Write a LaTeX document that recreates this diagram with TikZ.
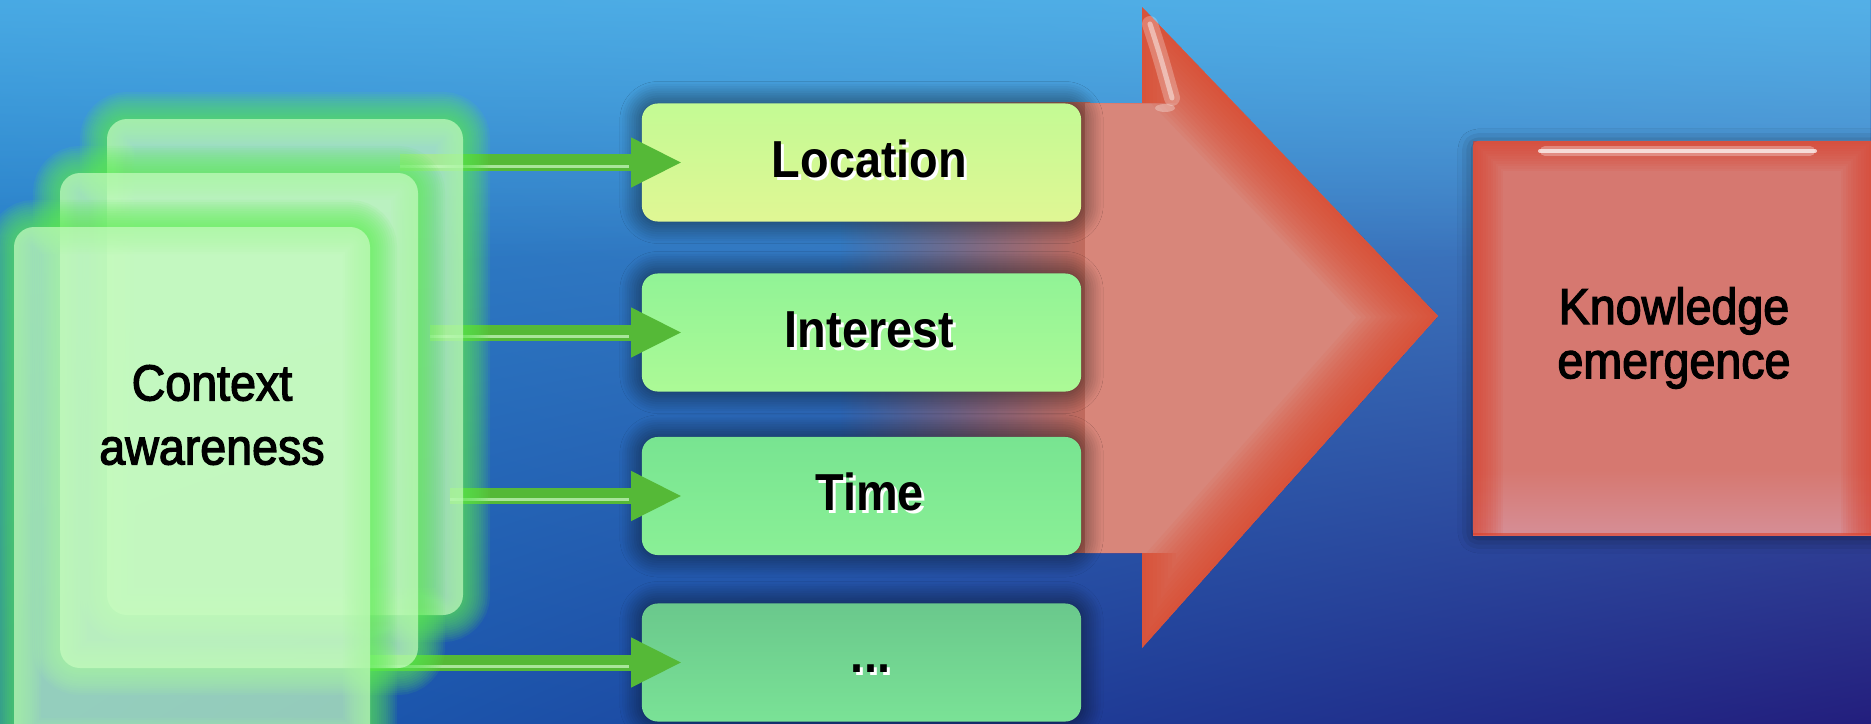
\documentclass[tikz,border=0pt]{standalone}
\usepackage{fontspec}
\setmainfont{Liberation Sans}
\newfontfamily\boxfont{Liberation Sans}[FakeStretch=0.9]
\newfontfamily\midfont{Liberation Sans}[FakeStretch=0.92, FakeBold=2.5]
\usetikzlibrary{arrows.meta,shadows.blur,fadings,shadings}
\definecolor{bgUL}{RGB}{45,135,205}
\definecolor{bgUR}{RGB}{80,155,215}
\definecolor{bgLL}{RGB}{25,100,185}
\definecolor{bgLR}{RGB}{35,30,125}
\definecolor{bgLight}{RGB}{85,185,238}
\definecolor{ared}{RGB}{228,70,40}
\definecolor{apink}{RGB}{216,134,122}
\definecolor{gapred}{RGB}{175,80,65}
\definecolor{gapmid}{RGB}{198,108,92}
\definecolor{kred}{RGB}{220,62,40}
\definecolor{kpink}{RGB}{214,120,112}
\definecolor{kpinkb}{RGB}{214,142,150}
\definecolor{locA}{RGB}{195,250,148}
\definecolor{locB}{RGB}{224,247,148}
\definecolor{intA}{RGB}{145,243,150}
\definecolor{intB}{RGB}{172,250,150}
\definecolor{timA}{RGB}{120,228,145}
\definecolor{timB}{RGB}{138,240,150}
\definecolor{dotA}{RGB}{106,200,140}
\definecolor{dotB}{RGB}{122,226,150}
\definecolor{garrowc}{RGB}{85,185,55}
\definecolor{gstripe}{RGB}{190,240,180}
\definecolor{glowgreen}{RGB}{95,238,85}
\definecolor{cardfill}{RGB}{200,252,192}
\tikzfading[name=fadeleft, left color=transparent!100, right color=transparent!0]
\tikzfading[name=fadedown, top color=transparent!0, bottom color=transparent!100]
\newcommand{\ctxcard}[4]{%
  \foreach \i in {1,...,12}{%
    \draw[glowgreen, line width=0.45*\i mm, opacity=0.085, rounded corners=2mm] (#1,#2) rectangle (#3,#4);}
  \fill[cardfill, opacity=0.7, rounded corners=2mm] (#1,#2) rectangle (#3,#4);}
\begin{document}
\begin{tikzpicture}[x=0.01cm, y=-0.01cm,
  gbox/.style={rounded corners=1.6mm, minimum width=43.9mm, minimum height=11.8mm, inner sep=0pt,
    blur shadow={shadow xshift=0mm, shadow yshift=0mm, shadow blur radius=2.2mm, shadow opacity=70, shadow blur steps=10}},
  lbl/.style={font=\boxfont\bfseries\fontsize{14.8}{17}\selectfont, anchor=base, inner sep=0pt},
  garrow/.style={draw=garrowc, line width=1.6mm, -{Triangle[length=5.1mm,width=4.6mm]}},
  stripe/.style={draw=gstripe, line width=0.3mm, opacity=0.8}]
\clip (0,0) rectangle (1871,724);
\shade[upper left=bgUL, upper right=bgUR, lower left=bgLL, lower right=bgLR] (0,0) rectangle (1871,724);
\fill[bgLight, path fading=fadedown, opacity=0.7] (0,0) rectangle (1871,260);
% red arrow
\shade[left color=gapred, right color=gapmid, path fading=fadeleft] (840,103) rectangle (1090,553);
\fill[apink] (1085,103) -- (1142,103) -- (1142,7) -- (1438,316) -- (1142,648) -- (1142,553) -- (1085,553) -- cycle;
\begin{scope}
  \clip (1085,103) -- (1142,103) -- (1142,7) -- (1438,316) -- (1142,648) -- (1142,553) -- (1085,553) -- cycle;
  \foreach \i in {1,...,16}{%
    \draw[ared, line width=0.75*\i mm, opacity=0.075, line join=miter] (1142,103) -- (1142,7) -- (1438,316) -- (1142,648) -- (1142,553);}
\end{scope}
\draw[white, opacity=0.25, line width=1.6mm, line cap=round] (1150,24) .. controls (1160,55) .. (1172,98);
\draw[white, opacity=0.45, line width=0.5mm, line cap=round] (1150,24) .. controls (1160,55) .. (1172,98);
\fill[white, opacity=0.3] (1165,108) ellipse (10 and 4);
% knowledge box
\node[fill=kpink, minimum width=40.8mm, minimum height=39.4mm, inner sep=0pt, rounded corners=0.5mm,
  blur shadow={shadow xshift=0mm, shadow yshift=-0.3mm, shadow blur radius=1.5mm, shadow opacity=50}] (know) at (1677,338) {};
\begin{scope}
  \clip (1473,141) rectangle (1881,535);
  \shade[top color=kpink, bottom color=kpinkb] (1473,470) rectangle (1881,535);
  \foreach \i in {1,...,12}{%
    \draw[kred, line width=0.5*\i mm, opacity=0.075] (1473,535) -- (1473,141) -- (1871,141) -- (1871,535);}
  \draw[kred, line width=0.4mm, opacity=0.6] (1473,535) -- (1881,535);
\end{scope}
\draw[white, opacity=0.3, line width=1.0mm, line cap=round] (1545,151) -- (1810,151);
\draw[white, opacity=0.7, line width=0.4mm, line cap=round] (1540,151) -- (1815,151);
% green boxes
\node[gbox, top color=locA, bottom color=locB] (loc) at (861.5,162.5) {};
\node[gbox, top color=intA, bottom color=intB] (int) at (861.5,332.5) {};
\node[gbox, top color=timA, bottom color=timB] (tim) at (861.5,496) {};
\node[gbox, top color=dotA, bottom color=dotB] (dots) at (861.5,662.5) {};
% green arrows
\coordinate (s1) at (400,162.5);
\coordinate (s2) at (430,332.5);
\coordinate (s3) at (450,496);
\coordinate (s4) at (370,662.5);
\draw[garrow] (s1) -- ([xshift=4.1mm]loc.west);
\draw[garrow] (s2) -- ([xshift=4.1mm]int.west);
\draw[garrow] (s3) -- ([xshift=4.1mm]tim.west);
\draw[garrow] (s4) -- ([xshift=4.1mm]dots.west);
\draw[stripe] ([yshift=-0.35mm]s1) -- ([xshift=-1.2mm,yshift=-0.35mm]loc.west);
\draw[stripe] ([yshift=-0.35mm]s2) -- ([xshift=-1.2mm,yshift=-0.35mm]int.west);
\draw[stripe] ([yshift=-0.35mm]s3) -- ([xshift=-1.2mm,yshift=-0.35mm]tim.west);
\draw[stripe] ([yshift=-0.35mm]s4) -- ([xshift=-1.2mm,yshift=-0.35mm]dots.west);
% context cards
\ctxcard{107}{119}{463}{615}
\ctxcard{60}{173}{418}{668}
\ctxcard{14}{227}{370}{745}
% texts
\node[font=\midfont\fontsize{14.4}{18.2}\selectfont, align=center, inner sep=0pt] (ctx) at (212,415) {Context\\awareness};
\node[font=\midfont\fontsize{14.4}{15.4}\selectfont, align=center, inner sep=0pt] (knowtxt) at ([xshift=-0.3mm]know.center) {Knowledge\\emergence};
\node[lbl, white] (locs) at ([xshift=1.1mm,yshift=-1.75mm]loc.center) {Location};
\node[lbl] (loct) at ([xshift=0.8mm,yshift=-1.45mm]loc.center) {Location};
\node[lbl, white] (ints) at ([xshift=1.1mm,yshift=-1.75mm]int.center) {Interest};
\node[lbl] (intt) at ([xshift=0.8mm,yshift=-1.45mm]int.center) {Interest};
\node[lbl, white] (tims) at ([xshift=1.1mm,yshift=-1.75mm]tim.center) {Time};
\node[lbl] (timt) at ([xshift=0.8mm,yshift=-1.45mm]tim.center) {Time};
\node[lbl, white] (dotss) at ([xshift=1.2mm,yshift=-1.25mm]dots.center) {...};
\node[lbl] (dotst) at ([xshift=0.9mm,yshift=-0.95mm]dots.center) {...};
\end{tikzpicture}
\end{document}
